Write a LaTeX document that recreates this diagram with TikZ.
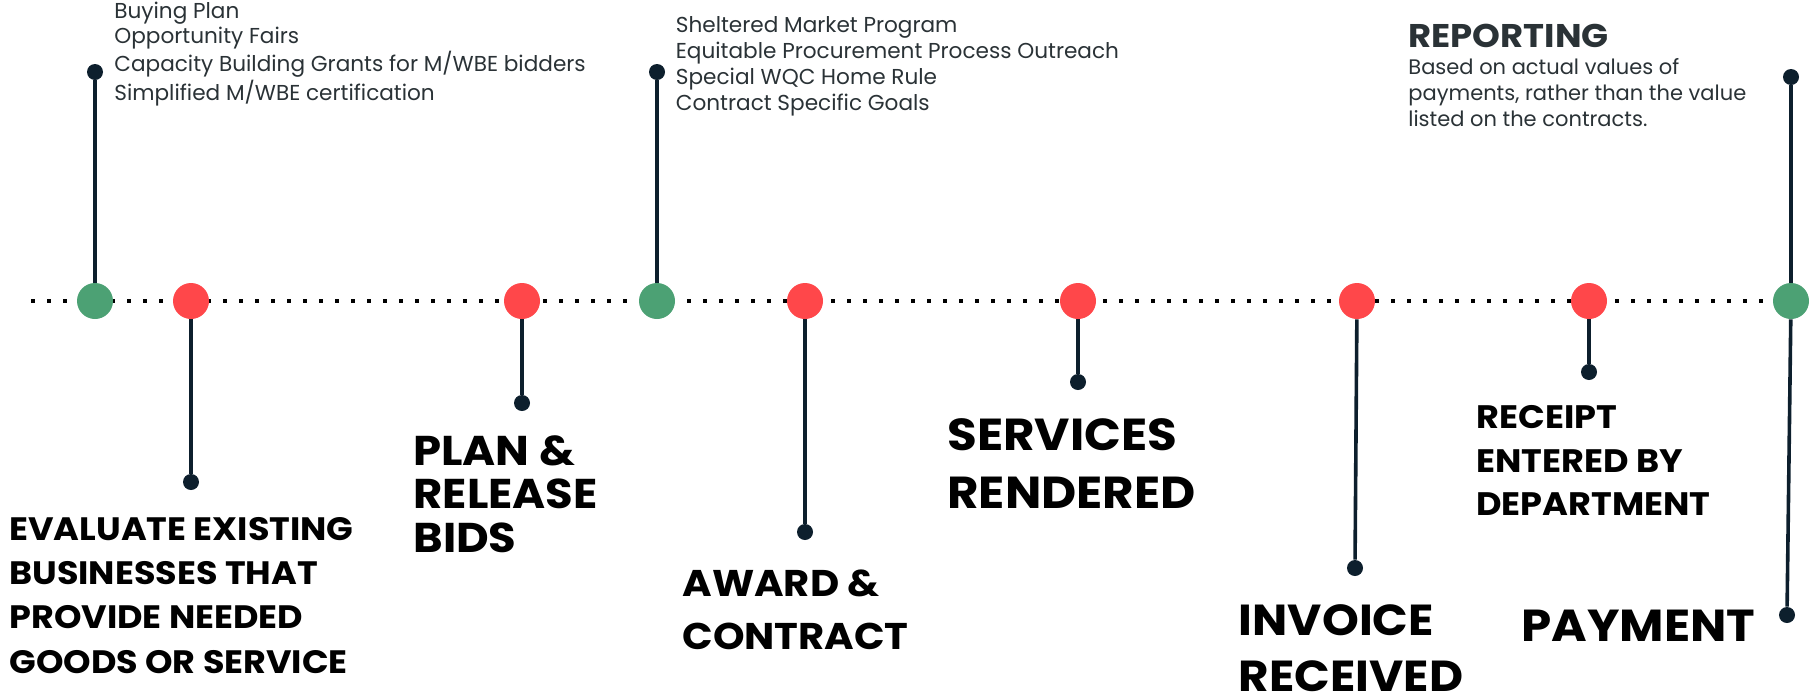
\documentclass[tikz,border=0pt]{standalone}
\usepackage{fontspec}
\setmainfont{Poppins}
\newfontfamily\wideface[FakeStretch=1.08]{Poppins}
\usetikzlibrary{positioning}
\definecolor{milegreen}{HTML}{4CA174}
\definecolor{milered}{HTML}{FF474A}
\definecolor{stemnavy}{HTML}{0D1F2D}
\definecolor{notegray}{HTML}{2A3236}
\newcommand{\pin}[2]
{
	\draw[stemline] (#1) -- (#2)
}

\begin{document}
\begin{tikzpicture}[x=0.5pt, y=-0.5pt,
	milestone/.style={circle, minimum size=18pt, inner sep=0pt},
	done/.style={milestone, fill=milegreen},
	todo/.style={milestone, fill=milered},
	pinhead/.style={circle, fill=stemnavy, minimum size=8pt, inner sep=0pt},
	stemline/.style={draw=stemnavy, line width=1.8pt},
	timeline/.style={line width=2pt, dash pattern=on 2pt off 6pt},
	steplabel/.style={anchor=base west, inner sep=0pt, align=left},
	notes/.style={anchor=base west, inner sep=0pt, align=left, text=notegray,
		font=\fontsize{10.8}{12.9}\selectfont}]

	\useasboundingbox (0,0) rectangle (1816,697);

	% dotted time line
	\coordinate (tlstart) at (31,301);
	\coordinate (tlend) at (1791,301);
	\draw[timeline] (tlstart) -- (tlend);

	\node[done] at (95, 301) (g1){};
	\node[todo] at (191, 301) (r1){};
	\node[todo] at (522, 301) (r2){};
	\node[done] at (657, 301) (g2){};
	\node[todo] at (805, 301) (r3){};
	\node[todo] at (1078, 301) (r4){};
	\node[todo] at (1357, 301) (r5){};
	\node[todo] at (1589, 301) (r6){};
	\node[done] at (1791, 301) (g3){};

	\node[pinhead] at (95, 72) (g1top){};
	\node[pinhead] at (191, 482) (r1end){};
	\node[pinhead] at (522, 403) (r2end){};
	\node[pinhead] at (657, 72) (g2top){};
	\node[pinhead] at (805, 532) (r3end){};
	\node[pinhead] at (1078, 382) (r4end){};
	\node[pinhead] at (1355, 568) (r5end){};
	\node[pinhead] at (1589, 372) (r6end){};
	\node[pinhead] at (1791, 77) (g3top){};
	\node[pinhead] at (1787, 615) (g3end){};

	\pin{g1}{g1top};
	\pin{r1}{r1end};
	\pin{r2}{r2end};
	\pin{g2}{g2top};
	\pin{r3}{r3end};
	\pin{r4}{r4end};
	\pin{r5}{r5end};
	\pin{r6}{r6end};
	\pin{g3}{g3top};
	\pin{g3}{g3end};

	% texts, placed at the baseline of their last line
	\node[notes] at (114, 100) (buynotes){Buying Plan\\Opportunity Fairs\\Capacity Building Grants for M/WBE bidders\\Simplified M/WBE certification};
	\node[notes] at (675.5, 110) (shelternotes){Sheltered Market Program\\Equitable Procurement Process Outreach\\Special WQC Home Rule\\Contract Specific Goals};
	\node[steplabel, text=notegray, font=\fontsize{16.4}{20}\wideface\bfseries] at (1408, 47.7) (reporttitle){REPORTING};
	\node[notes, font=\fontsize{10.5}{13}\selectfont] at (1408, 126) (reportnote){Based on actual values of\\payments, rather than the value\\listed on the contracts.};

	\node[steplabel, font=\fontsize{16.2}{22.2}\wideface\bfseries] at (9, 673.3) (evallbl){EVALUATE EXISTING\\BUSINESSES THAT\\PROVIDE NEEDED\\GOODS OR SERVICE};
	\node[steplabel, font=\fontsize{20.8}{21.9}\wideface\bfseries] at (413, 552.7) (planlbl){PLAN \&\\RELEASE\\BIDS};
	\node[steplabel, font=\fontsize{18.6}{26.2}\wideface\bfseries] at (682, 649) (awardlbl){AWARD \&\\CONTRACT};
	\node[steplabel, font=\fontsize{22.4}{28.8}\wideface\bfseries] at (947, 508.3) (servlbl){SERVICES\\RENDERED};
	\node[steplabel, font=\fontsize{21.7}{28.3}\wideface\bfseries] at (1238.5, 691.7) (invlbl){INVOICE\\RECEIVED};
	\node[steplabel, font=\fontsize{16.25}{21.7}\wideface\bfseries] at (1476, 515.7) (rcptlbl){RECEIPT\\ENTERED BY\\DEPARTMENT};
	\node[steplabel, font=\fontsize{22.4}{28}\wideface\bfseries] at (1521, 641.7) (paylbl){PAYMENT};
\end{tikzpicture}
\end{document}
